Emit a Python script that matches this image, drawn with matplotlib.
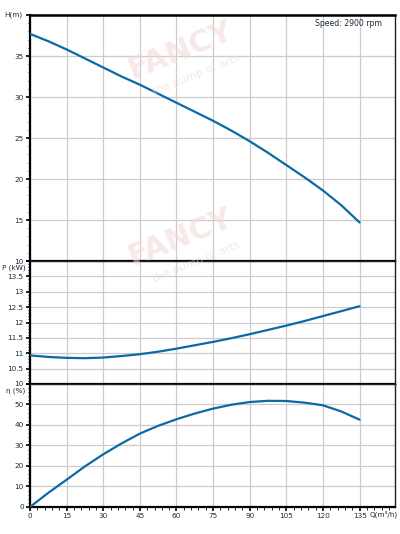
import numpy as np
import matplotlib
matplotlib.use('Agg')
import matplotlib.pyplot as plt
from matplotlib.ticker import MultipleLocator

# (every 7.5 m3/h)
q_vals = [0, 7.5, 15, 22.5, 30, 37.5, 45, 52.5, 60, 67.5, 75, 82.5, 90, 97.5,
          105, 112.5, 120, 127.5, 135]
head_m = [37.7, 36.8, 35.8, 34.7, 33.6, 32.5, 31.5, 30.4, 29.3, 28.2, 27.1, 25.9,
          24.6, 23.2, 21.7, 20.2, 18.6, 16.8, 14.7]
power_kw = [10.93, 10.88, 10.85, 10.84, 10.86, 10.91, 10.97, 11.05, 11.15, 11.26,
            11.37, 11.49, 11.62, 11.76, 11.90, 12.05, 12.21, 12.37, 12.53]
eff_pct = [0.0, 6.9, 13.3, 19.8, 25.7, 31.0, 35.8, 39.6, 42.8, 45.6, 48.0, 49.9,
           51.2, 51.8, 51.7, 50.9, 49.6, 46.6, 42.6]

x_ticks = [0, 15, 30, 45, 60, 75, 90, 105, 120, 135]
CURVE = '#0a6aa6'
TXT = '#1c2b3a'
GRID = '#cccccc'

fig = plt.figure(figsize=(4.0, 5.34), dpi=100)
L, W = 0.075, 0.9125
ax_h = fig.add_axes([L, 0.5112, W, 0.4607])
ax_p = fig.add_axes([L, 0.2809, W, 0.2303])
ax_e = fig.add_axes([L, 0.0506, W, 0.2303])

panels = [
    (ax_h, head_m, (10, 40), np.arange(10, 36, 5), 'H(m)', 1),
    (ax_p, power_kw, (10, 14), np.arange(10, 13.6, 0.5), 'P (kW)', 0.1),
    (ax_e, eff_pct, (0, 60), np.arange(0, 51, 10), 'η (%)', 2),
]

for ax, ys, ylim, yt, ylab, minor in panels:
    ax.plot(q_vals, ys, color=CURVE, lw=1.6, solid_capstyle='round', zorder=3)
    ax.set_xlim(0, 149.5)
    ax.set_ylim(*ylim)
    ax.set_yticks(list(yt) + [ylim[1]])
    ax.set_yticklabels([f'{t:g}' for t in yt] + [''])
    ax.set_xticks(x_ticks)
    ax.yaxis.set_minor_locator(MultipleLocator(minor))
    ax.xaxis.set_minor_locator(MultipleLocator(3))
    ax.grid(True, which='major', color=GRID, lw=0.9, zorder=0)
    ax.set_axisbelow(True)
    ax.tick_params(axis='both', which='major', length=3, width=1.2, labelsize=5.2,
                   colors='black', labelcolor=TXT, pad=1.5)
    ax.tick_params(axis='both', which='minor', length=1.8, width=0.6, colors='black')
    for s in ['left', 'bottom']:
        ax.spines[s].set_linewidth(1.6)
    for s in ['top', 'right']:
        ax.spines[s].set_linewidth(1.0)
        ax.spines[s].set_color('#222222')
    if ax is not ax_e:
        ax.tick_params(axis='x', which='both', labelbottom=False, length=0)

ax_h.spines['top'].set_linewidth(1.8)
ax_h.spines['top'].set_color('black')

# axis name labels at the top of each panel
ax_h.text(-0.022, 1.0, 'H(m)', transform=ax_h.transAxes, fontsize=5.2, color=TXT,
          ha='right', va='center')
ax_p.text(-0.012, 0.968, 'P (kW)', transform=ax_p.transAxes, fontsize=5.2, color=TXT,
          ha='right', va='top')
ax_e.text(-0.012, 0.968, 'η (%)', transform=ax_e.transAxes, fontsize=5.2, color=TXT,
          ha='right', va='top')

ax_e.text(139.0, -1.9, 'Q(m³/h)', fontsize=5.2, color=TXT, ha='left', va='top',
          clip_on=False)
ax_h.text(0.965, 0.985, 'Speed: 2900 rpm', transform=ax_h.transAxes, fontsize=5.6,
          color=TXT, ha='right', va='top')

# faint watermark
for (wx, wy) in [(0.45, 0.905), (0.45, 0.555)]:
    fig.text(wx, wy, 'FANCY', fontsize=22, fontweight='bold', color='#f3d8d8',
             alpha=0.55, rotation=22, ha='center', va='center', zorder=0)
    fig.text(wx + 0.04, wy - 0.045, 'the pump of arts', fontsize=8, color='#f1d5d5',
             alpha=0.55, rotation=22, ha='center', va='center', zorder=0)

fig.savefig('out.png', dpi=100, facecolor='white')
